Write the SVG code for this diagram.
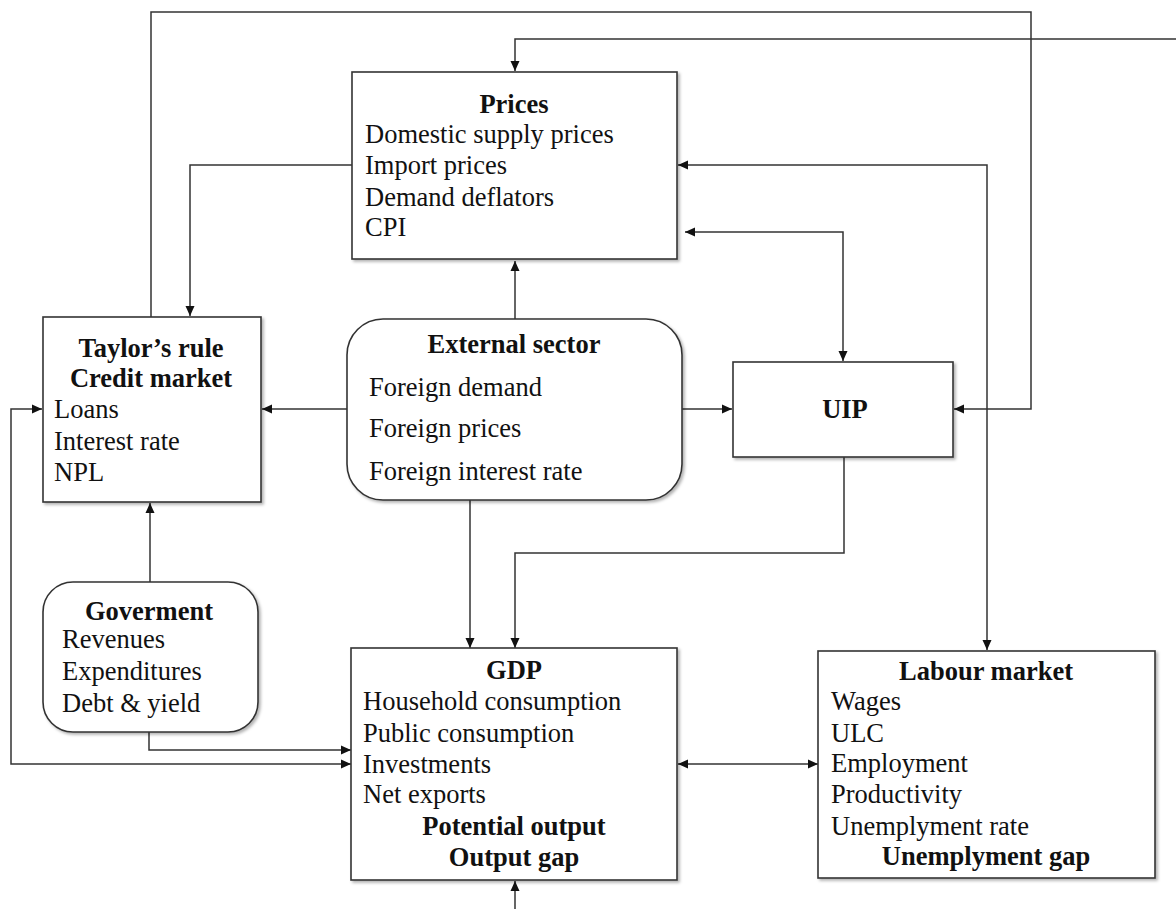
<svg xmlns="http://www.w3.org/2000/svg" width="1176" height="909" viewBox="0 0 1176 909">
<style>
.box{fill:#fff;stroke:#333;stroke-width:1.6;filter:url(#sh)}
.c{fill:none;stroke:#333;stroke-width:1.5}
text{font-family:"Liberation Serif","Times New Roman",serif;font-size:26.5px;fill:#111}
.b{font-weight:bold;text-anchor:middle}
</style>
<defs>
<filter id="sh" x="-5%" y="-5%" width="115%" height="115%"><feDropShadow dx="2" dy="2" stdDeviation="1.5" flood-color="#000" flood-opacity="0.3"/></filter>
<marker id="a" markerUnits="userSpaceOnUse" markerWidth="11" markerHeight="10" refX="10" refY="5" orient="auto-start-reverse"><path d="M0,0.5 L10,5 L0,9.5 z" fill="#111"/></marker>
</defs>
<g id="connectors">
<path class="c" d="M151,317 V12 H1031 V409 H954" marker-end="url(#a)"/>
<path class="c" d="M1176,39 H515 V71" marker-end="url(#a)"/>
<path class="c" d="M352,165 H190 V316" marker-end="url(#a)"/>
<path class="c" d="M678,165 H987 V650" marker-start="url(#a)" marker-end="url(#a)"/>
<path class="c" d="M685,232 H843 V361" marker-start="url(#a)" marker-end="url(#a)"/>
<path class="c" d="M515,319 V261" marker-end="url(#a)"/>
<path class="c" d="M347,409 H262" marker-end="url(#a)"/>
<path class="c" d="M682,409 H732" marker-end="url(#a)"/>
<path class="c" d="M470,500 V648" marker-end="url(#a)"/>
<path class="c" d="M844,457 V553 H515 V648" marker-end="url(#a)"/>
<path class="c" d="M150,582 V503" marker-end="url(#a)"/>
<path class="c" d="M149,732 V750 H351" marker-end="url(#a)"/>
<path class="c" d="M42,409 H11 V764 H351" marker-start="url(#a)" marker-end="url(#a)"/>
<path class="c" d="M678,764 H818" marker-start="url(#a)" marker-end="url(#a)"/>
<path class="c" d="M515,909 V881" marker-end="url(#a)"/>
</g>
<g id="prices">
<rect class="box" x="352" y="72" width="325" height="187"/>
<text class="b" x="514" y="113">Prices</text>
<text x="365" y="143">Domestic supply prices</text>
<text x="365" y="174">Import prices</text>
<text x="365" y="206">Demand deflators</text>
<text x="365" y="236">CPI</text>
</g>
<g id="taylor">
<rect class="box" x="43" y="317" width="218" height="185"/>
<text class="b" x="151" y="357">Taylor’s rule</text>
<text class="b" x="151" y="387">Credit market</text>
<text x="54" y="418">Loans</text>
<text x="54" y="450">Interest rate</text>
<text x="54" y="481">NPL</text>
</g>
<g id="external">
<rect class="box" x="347" y="319" width="335" height="181" rx="36" ry="36"/>
<text class="b" x="514" y="353">External sector</text>
<text x="369" y="396">Foreign demand</text>
<text x="369" y="437">Foreign prices</text>
<text x="369" y="480">Foreign interest rate</text>
</g>
<g id="uip">
<rect class="box" x="733" y="362" width="220" height="95"/>
<text class="b" x="845" y="418">UIP</text>
</g>
<g id="government">
<rect class="box" x="43" y="582" width="215" height="150" rx="30" ry="30"/>
<text class="b" x="149" y="620">Goverment</text>
<text x="62" y="648">Revenues</text>
<text x="62" y="680">Expenditures</text>
<text x="62" y="712">Debt &amp; yield</text>
</g>
<g id="gdp">
<rect class="box" x="351" y="648" width="326" height="232"/>
<text class="b" x="514" y="679">GDP</text>
<text x="363" y="710">Household consumption</text>
<text x="363" y="742">Public consumption</text>
<text x="363" y="773">Investments</text>
<text x="363" y="803">Net exports</text>
<text class="b" x="514" y="835">Potential output</text>
<text class="b" x="514" y="866">Output gap</text>
</g>
<g id="labour">
<rect class="box" x="818" y="651" width="337" height="227"/>
<text class="b" x="986" y="680">Labour market</text>
<text x="831" y="710">Wages</text>
<text x="831" y="742">ULC</text>
<text x="831" y="772">Employment</text>
<text x="831" y="803">Productivity</text>
<text x="831" y="835">Unemplyment rate</text>
<text class="b" x="986" y="865">Unemplyment gap</text>
</g>
</svg>
